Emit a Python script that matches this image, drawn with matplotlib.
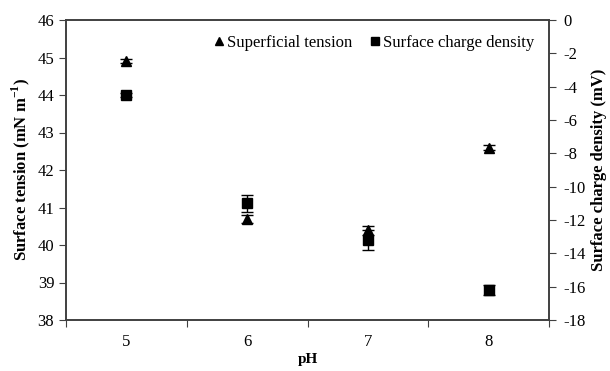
import matplotlib
matplotlib.use("Agg")
import matplotlib.pyplot as plt
from matplotlib.lines import Line2D
import numpy as np

plt.rcParams['font.family'] = ['Liberation Serif', 'DejaVu Serif']
plt.rcParams['mathtext.fontset'] = 'custom'
plt.rcParams['mathtext.rm'] = 'Liberation Serif'
plt.rcParams['mathtext.bf'] = 'Liberation Serif:bold'
plt.rcParams['axes.unicode_minus'] = False

ph_labels = ['5', '6', '7', '8']
tension = [44.9, 40.7, 40.4, 42.6]
tension_err = [0.05, 0.1, 0.12, 0.08]
charge = [-4.5, -11.0, -13.2, -16.2]
charge_err = [0.1, 0.5, 0.6, 0.3]

fig = plt.figure(figsize=(6.1, 3.71), dpi=100)
ax = fig.add_axes([66/610, 1-320/371, (549-66)/610, 300/371])
ax2 = ax.twinx()

x = np.arange(len(ph_labels))
ax.errorbar(x, tension, yerr=tension_err, fmt='^', color='black', ms=7,
            capsize=4, elinewidth=1, capthick=1, zorder=3)
ax2.errorbar(x, charge, yerr=charge_err, fmt='s', color='black', ms=7,
             capsize=4, elinewidth=1, capthick=1, zorder=3)

ax.set_xlim(-0.5, len(ph_labels) - 0.5)
ax.set_ylim(38, 46)
ax.set_yticks(np.arange(38, 46.1, 1))
ax2.set_ylim(-18, 0)
ax2.set_yticks(np.arange(-18, 0.1, 2))

ax.set_xticks(np.arange(-0.5, len(ph_labels), 1))
ax.set_xticklabels([])
ax.set_xticks(x, minor=True)
ax.set_xticklabels(ph_labels, minor=True)
ax.tick_params(axis='x', which='minor', length=0, pad=10, labelsize=12)
ax.tick_params(axis='x', which='major', length=5, direction='out', color='#404040')
ax.tick_params(axis='y', length=5, direction='out', labelsize=12, color='#404040')
ax2.tick_params(axis='y', length=5, direction='out', labelsize=12, color='#404040', pad=5)

for a in (ax, ax2):
    for s in a.spines.values():
        s.set_color('#404040')
        s.set_linewidth(1.2)

ax.set_xlabel('pH', fontsize=11, fontweight='bold', labelpad=2)
ax.set_ylabel('Surface tension (mN m$^{\\mathbf{-1}}$)', fontsize=12, fontweight='bold', labelpad=4)
ax2.set_ylabel('Surface charge density (mV)', fontsize=12, fontweight='bold', labelpad=4)

handles = [Line2D([], [], ls='none', marker='^', color='black', ms=6),
           Line2D([], [], ls='none', marker='s', color='black', ms=6)]
labels = ['Superficial tension', 'Surface charge density']
ax2.legend(handles, labels, loc='upper right', ncol=2, frameon=False,
           fontsize=12, handletextpad=0.05, columnspacing=1.0,
           handlelength=0.8, borderaxespad=0.5)

fig.savefig('out.png', dpi=100)
